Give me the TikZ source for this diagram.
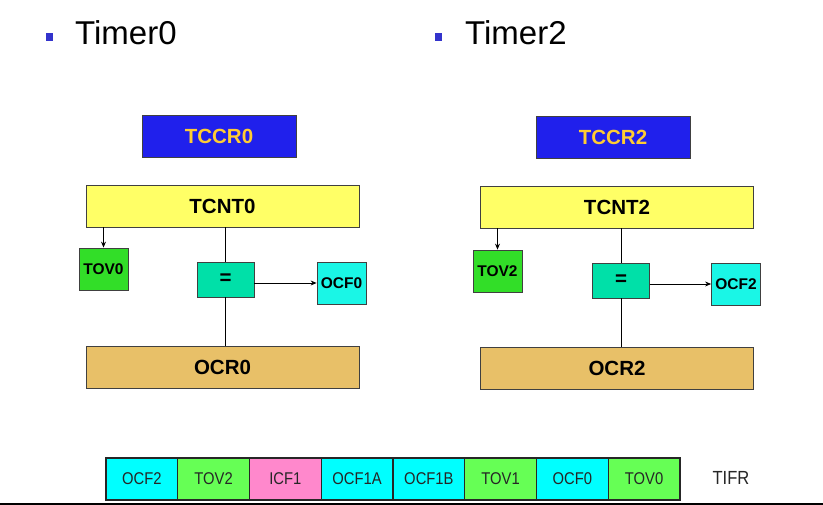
\documentclass[tikz,border=0pt]{standalone}
\usepackage{fontspec}
\setmainfont{Liberation Sans}
\newfontfamily\narrowsans[FakeStretch=0.87]{Liberation Sans}
\usetikzlibrary{arrows.meta}

\definecolor{ctrlblue}{RGB}{32,32,236}
\definecolor{ctrltext}{RGB}{255,204,51}
\definecolor{cntyellow}{RGB}{255,255,102}
\definecolor{tovgreen}{RGB}{50,222,40}
\definecolor{eqteal}{RGB}{0,224,168}
\definecolor{ocfcyan}{RGB}{26,246,230}
\definecolor{ocrtan}{RGB}{232,192,104}
\definecolor{bitcyan}{RGB}{0,255,255}
\definecolor{bitgreen}{RGB}{102,255,85}
\definecolor{bitpink}{RGB}{255,136,204}
\definecolor{bulletblue}{RGB}{51,51,204}
\definecolor{baseline}{RGB}{60,90,120}

\tikzset{
  regbox/.style={draw=black!75, line width=0.8pt, inner sep=0pt,
    minimum height=42pt, font=\bfseries\fontsize{20.5}{24}\selectfont},
  flagbox/.style={draw=black!75, line width=0.8pt, inner sep=0pt,
    minimum width=49pt, minimum height=42pt, font=\bfseries\fontsize{15.5}{18}\selectfont},
  bitbox/.style={draw=black!85, line width=1.2pt, inner sep=0pt,
    minimum width=71.75pt, minimum height=42pt, text=black!85,
    font=\narrowsans\fontsize{17}{20}\selectfont},
  title/.style={anchor=base west, inner sep=0pt, font=\fontsize{33}{40}\selectfont},
  link/.style={black, line width=0.8pt},
}

\begin{document}
\begin{tikzpicture}[x=1pt,y=-1pt]
\useasboundingbox (0,0) rectangle (823,505);
% titles:
\fill[bulletblue] (46,33) rectangle (53,41);
\node[title] (t0title) at (75,45) {Timer0};
\fill[bulletblue] (435,33) rectangle (442,41);
\node[title] (t2title) at (465,45) {Timer2};

% Timer0:
\node[regbox, fill=ctrlblue, text=ctrltext, minimum width=154pt] (tccr0) at (219,136) {TCCR0};
\node[regbox, fill=cntyellow, minimum width=273pt] (tcnt0) at (222.5,206) {TCNT0};
\node[flagbox, fill=tovgreen] (tov0) at (103.5,269) {TOV0};
\node[regbox, fill=eqteal, minimum width=57pt, minimum height=35pt] (eq0) at (225.5,279.5) {=};
\node[flagbox, fill=ocfcyan] (ocf0) at (341.5,283) {OCF0};
\node[regbox, fill=ocrtan, minimum width=273pt] (ocr0) at (222.5,367) {OCR0};
\draw[link, -{Stealth[length=6pt,width=5pt]}] (tov0.north |- tcnt0.south) -- (tov0.north);
\draw[link] (eq0.north |- tcnt0.south) -- (eq0.north);
\draw[link] (eq0.south) -- (eq0.south |- ocr0.north);
\draw[link, -{Stealth[length=6pt,width=5pt]}] (eq0.east |- ocf0) -- (ocf0.west);

% Timer2:
\node[regbox, fill=ctrlblue, text=ctrltext, minimum width=154pt] (tccr2) at (613,137) {TCCR2};
\node[regbox, fill=cntyellow, minimum width=273pt] (tcnt2) at (617,207) {TCNT2};
\node[flagbox, fill=tovgreen] (tov2) at (497.5,271) {TOV2};
\node[regbox, fill=eqteal, minimum width=57pt, minimum height=35pt] (eq2) at (621,280.5) {=};
\node[flagbox, fill=ocfcyan] (ocf2) at (736,284) {OCF2};
\node[regbox, fill=ocrtan, minimum width=273pt] (ocr2) at (617,368) {OCR2};
\draw[link, -{Stealth[length=6pt,width=5pt]}] (tov2.north |- tcnt2.south) -- (tov2.north);
\draw[link] (eq2.north |- tcnt2.south) -- (eq2.north);
\draw[link] (eq2.south) -- (eq2.south |- ocr2.north);
\draw[link, -{Stealth[length=6pt,width=5pt]}] (eq2.east |- ocf2) -- (ocf2.west);

% TIFR bits:
\node[bitbox, fill=bitcyan] (bit7) at (141.9,479) {OCF2};
\node[bitbox, fill=bitgreen] (bit6) at (213.6,479) {TOV2};
\node[bitbox, fill=bitpink] (bit5) at (285.4,479) {ICF1};
\node[bitbox, fill=bitcyan] (bit4) at (357.1,479) {OCF1A};
\node[bitbox, fill=bitcyan] (bit3) at (428.9,479) {OCF1B};
\node[bitbox, fill=bitgreen] (bit2) at (500.6,479) {TOV1};
\node[bitbox, fill=bitcyan] (bit1) at (572.4,479) {OCF0};
\node[bitbox, fill=bitgreen] (bit0) at (644.1,479) {TOV0};
\node[font=\narrowsans\fontsize{19}{22}\selectfont, text=black!85] (tifr) at (731,478) {TIFR};

\draw[baseline, line width=2pt] (0,503.5) -- (823,503.5);
\end{tikzpicture}
\end{document}
